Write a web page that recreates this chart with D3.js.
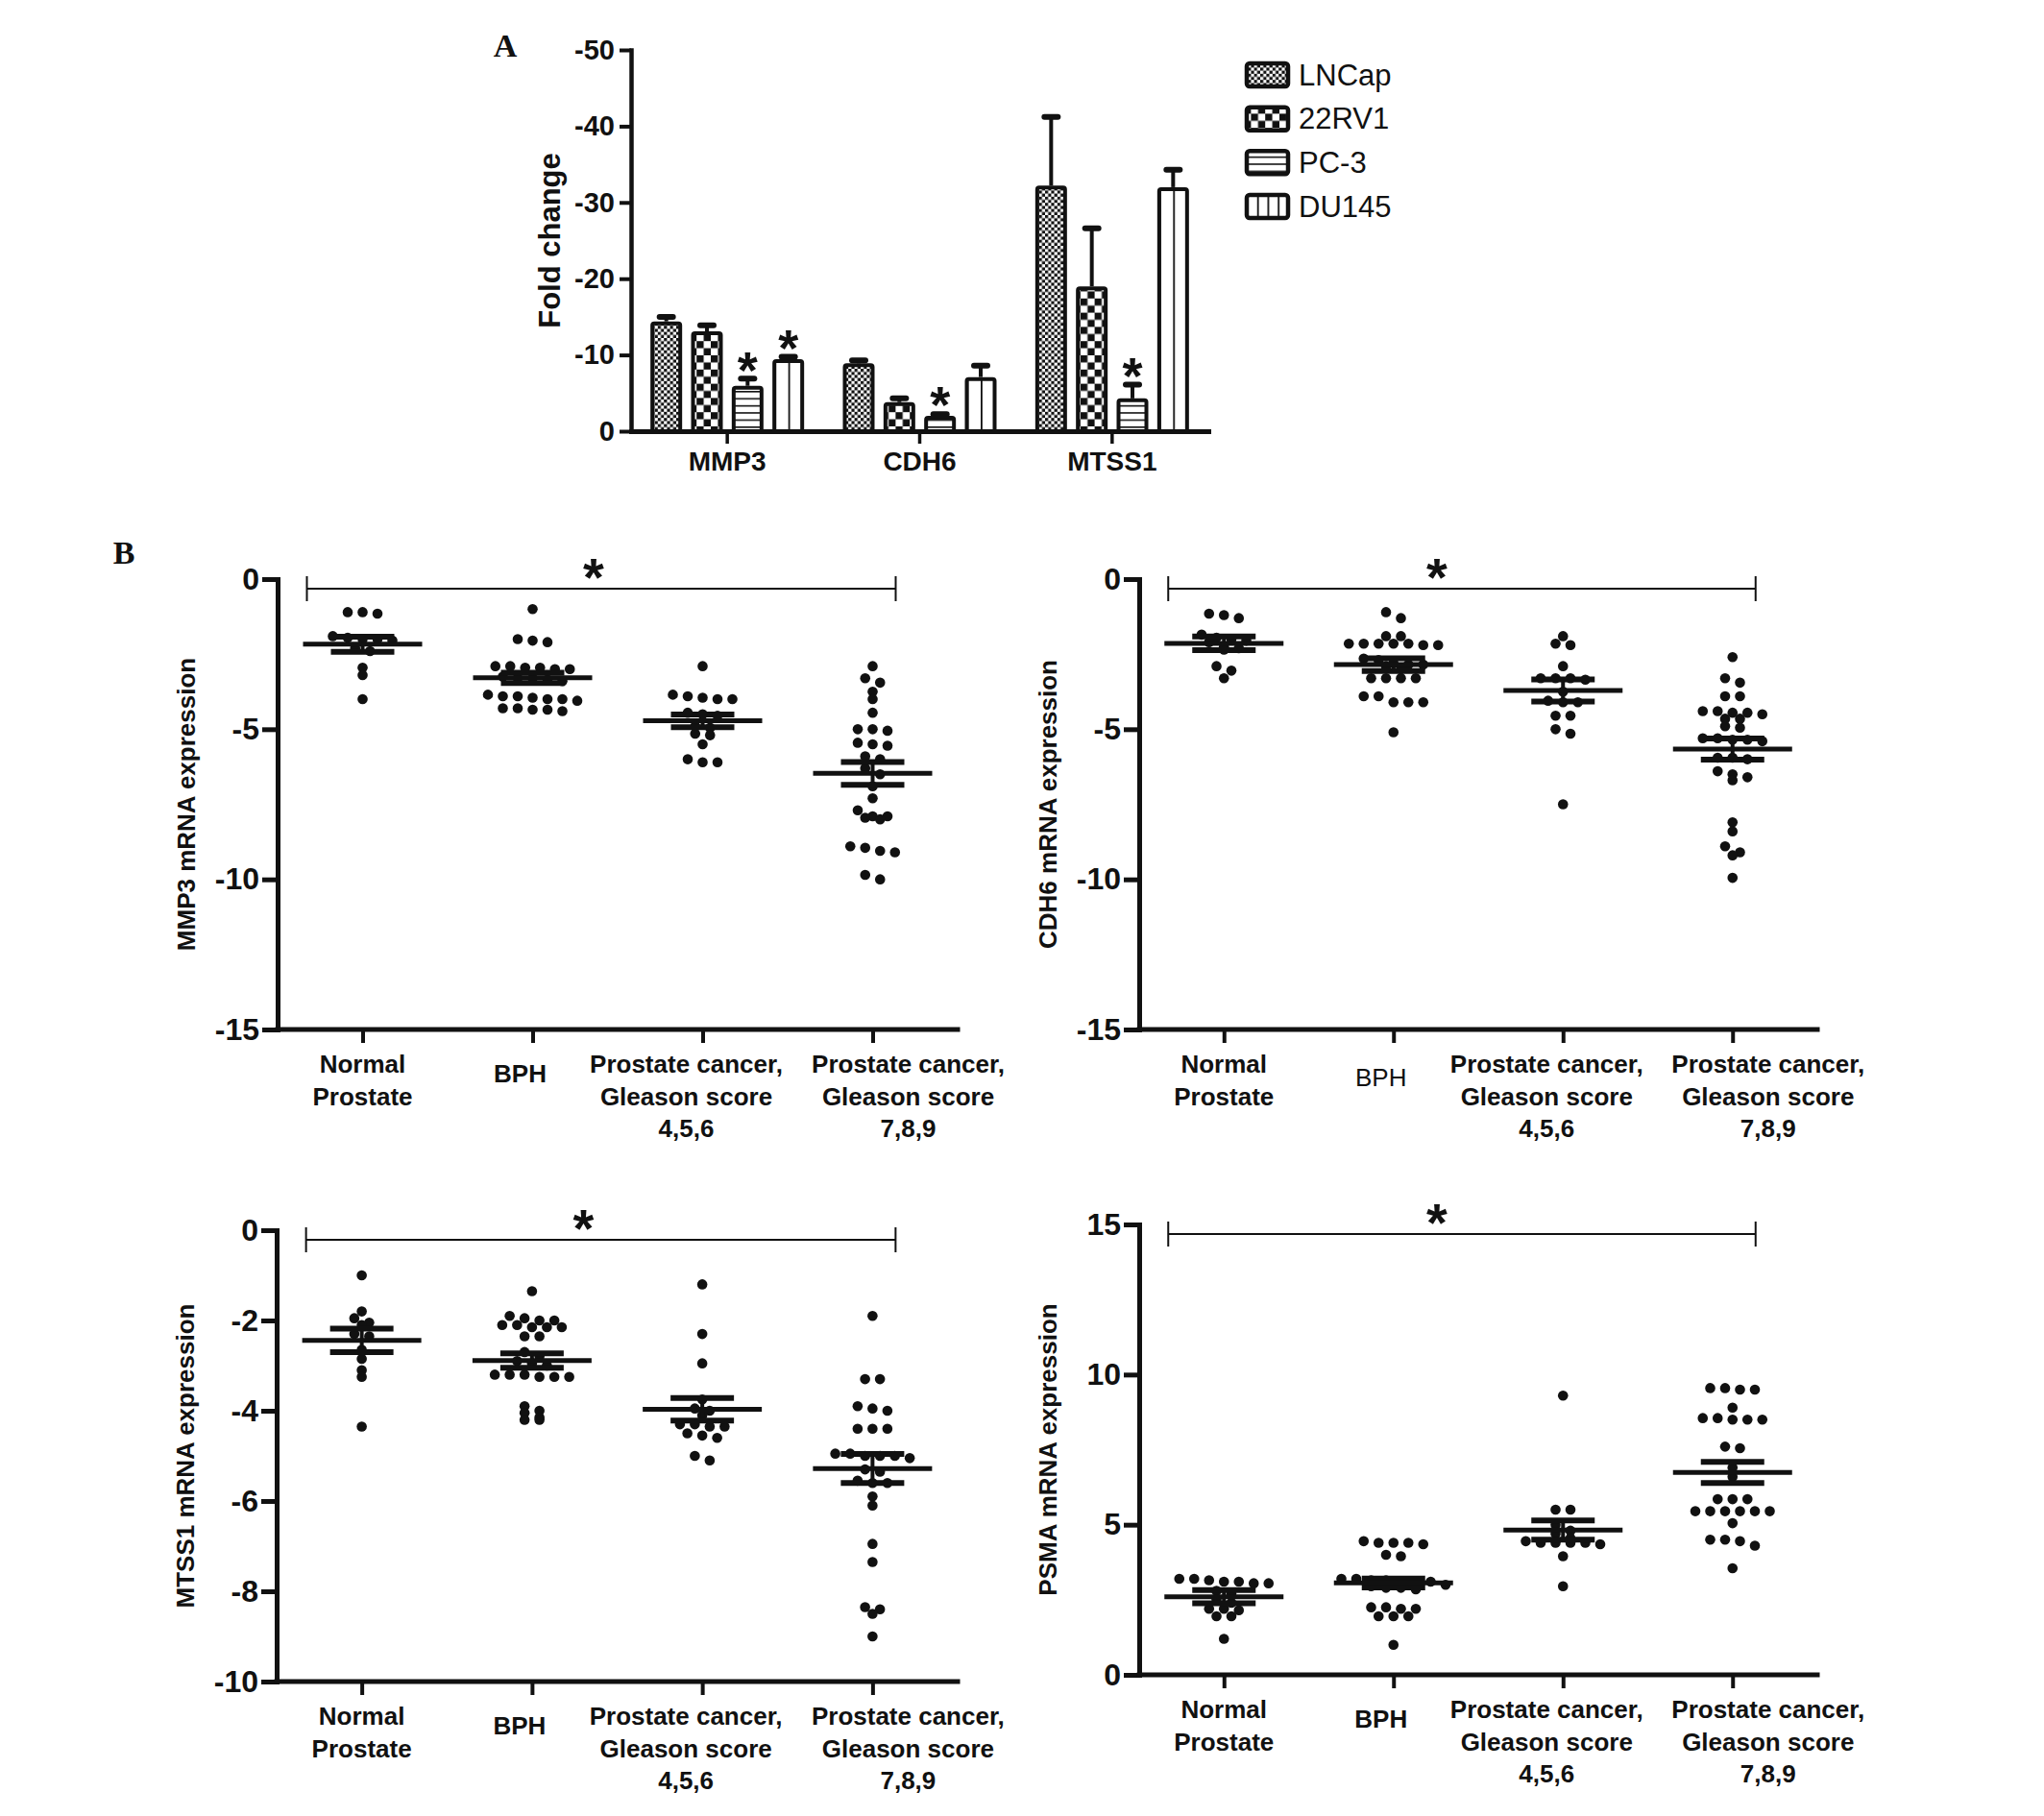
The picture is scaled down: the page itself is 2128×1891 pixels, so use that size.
<!DOCTYPE html>
<html><head><meta charset="utf-8">
<script src="https://cdn.jsdelivr.net/npm/d3@7"></script>
<style>body{margin:0;background:#fff} svg{display:block}</style>
</head><body>
<svg id="chart" width="2128" height="1891"></svg>
<script>
// ================= DATA =================
// Panel A: fold change (cell lines)
const genes = ["MMP3", "CDH6", "MTSS1"];
const cellLines = ["LNCap", "22RV1", "PC-3", "DU145"];
const foldLNCap = [-14.4, -8.9, -32.2];
const fold22RV1 = [-13.1, -3.8, -19.0];
const foldPC3   = [-5.95, -2.0, -4.3];
const foldDU145 = [-9.45, -7.1, -32.0];
const errLNCap = [0.6, 0.4, 9.0];
const err22RV1 = [0.8, 0.5, 7.6];
const errPC3   = [0.95, 0.25, 1.8];
const errDU145 = [0.3, 1.5, 2.3];
const sigLNCap = [false, false, false];
const sig22RV1 = [false, false, false];
const sigPC3   = [true, true, true];
const sigDU145 = [true, false, false];
const foldTicks = [0, -10, -20, -30, -40, -50];

// Panel B: tissue groups
const tissueGroups = ["Normal Prostate", "BPH", "Prostate cancer, Gleason score 4,5,6", "Prostate cancer, Gleason score 7,8,9"];
const tissueLabelLines = [["Normal", "Prostate"], ["BPH"], ["Prostate cancer,", "Gleason score", "4,5,6"], ["Prostate cancer,", "Gleason score", "7,8,9"]];

const mmp3Normal = [-1.1, -1.15, -1.1, -1.9, -1.95, -2.0, -2.0, -2.05, -2.3, -2.4, -2.95, -3.2, -4.0];
const mmp3BPH = [-1.0, -2.0, -2.05, -2.1, -2.9, -2.9, -2.95, -2.95, -3.0, -3.0, -3.25, -3.3, -3.3, -3.35, -3.4, -3.85, -3.9, -3.9, -3.95, -4.0, -4.0, -4.05, -4.3, -4.3, -4.35, -4.35, -4.4];
const mmp3PC456 = [-2.9, -3.85, -3.9, -3.95, -4.0, -4.0, -4.45, -4.5, -4.55, -4.9, -4.95, -5.15, -5.2, -5.5, -6.0, -6.1, -6.1];
const mmp3PC789 = [-2.9, -3.3, -3.45, -3.75, -4.0, -4.45, -5.0, -5.0, -5.05, -5.45, -5.5, -5.55, -5.9, -6.0, -6.3, -6.5, -6.9, -7.3, -7.7, -7.9, -7.9, -7.95, -8.0, -8.9, -8.95, -9.05, -9.1, -9.85, -10.0];
const mmp3Mean = [-2.17, -3.29, -4.72, -6.47];
const mmp3Sem = [0.25, 0.17, 0.21, 0.38];
const mmp3Ticks = [0, -5, -10, -15];

const cdh6Normal = [-1.15, -1.3, -1.2, -1.85, -1.95, -2.0, -2.05, -2.1, -2.25, -2.3, -2.35, -2.9, -3.05, -3.3];
const cdh6BPH = [-1.1, -1.3, -1.9, -1.9, -2.15, -2.15, -2.15, -2.15, -2.15, -2.2, -2.2, -2.65, -2.7, -2.8, -2.85, -2.85, -2.9, -3.0, -3.3, -3.3, -3.3, -3.3, -3.9, -3.9, -4.1, -4.1, -4.1, -5.1];
const cdh6PC456 = [-1.9, -2.15, -2.2, -2.9, -3.3, -3.3, -3.3, -3.35, -3.75, -4.05, -4.1, -4.1, -4.55, -4.55, -5.0, -5.15, -7.5];
const cdh6PC789 = [-2.6, -3.3, -3.45, -3.9, -3.9, -4.4, -4.4, -4.45, -4.45, -4.5, -4.65, -4.65, -4.9, -4.95, -5.3, -5.3, -5.35, -5.35, -5.4, -5.95, -5.95, -6.0, -6.4, -6.5, -6.6, -6.7, -8.1, -8.4, -8.9, -9.1, -9.2, -9.95];
const cdh6Mean = [-2.14, -2.85, -3.71, -5.66];
const cdh6Sem = [0.23, 0.21, 0.37, 0.35];
const cdh6Ticks = [0, -5, -10, -15];

const mtss1Normal = [-1.0, -1.8, -1.95, -2.05, -2.1, -2.3, -2.35, -2.65, -2.85, -3.1, -3.25, -4.35];
const mtss1BPH = [-1.35, -1.9, -1.95, -2.0, -2.0, -2.1, -2.1, -2.15, -2.15, -2.15, -2.35, -2.35, -2.7, -2.8, -2.9, -2.95, -3.0, -3.2, -3.2, -3.2, -3.25, -3.25, -3.25, -3.9, -4.0, -4.05, -4.15, -4.2, -4.2];
const mtss1PC456 = [-1.2, -2.3, -2.95, -3.75, -3.95, -4.0, -4.1, -4.3, -4.3, -4.35, -4.35, -4.5, -4.55, -4.6, -5.0, -5.1];
const mtss1PC789 = [-1.9, -3.3, -3.3, -3.9, -3.95, -4.0, -4.4, -4.4, -4.4, -4.95, -4.95, -5.0, -5.0, -5.0, -5.05, -5.3, -5.35, -5.55, -5.6, -5.6, -5.9, -6.1, -6.95, -7.35, -8.35, -8.4, -8.5, -9.0];
const mtss1Mean = [-2.44, -2.89, -3.97, -5.28];
const mtss1Sem = [0.26, 0.16, 0.25, 0.32];
const mtss1Ticks = [0, -2, -4, -6, -8, -10];

const psmaNormal = [3.2, 3.2, 3.15, 3.1, 3.1, 3.05, 3.05, 2.8, 2.7, 2.5, 2.4, 2.2, 2.2, 2.15, 1.95, 1.95, 1.2];
const psmaBPH = [4.45, 4.4, 4.4, 4.4, 4.35, 4.0, 3.95, 3.2, 3.2, 3.15, 3.15, 3.1, 3.1, 3.1, 3.0, 2.95, 2.9, 2.9, 2.85, 2.25, 2.25, 2.2, 2.2, 1.95, 1.95, 1.95, 1.0];
const psmaPC456 = [9.3, 5.5, 5.5, 5.0, 4.8, 4.7, 4.55, 4.45, 4.4, 4.4, 4.4, 4.4, 4.35, 3.95, 2.95];
const psmaPC789 = [9.55, 9.55, 9.5, 9.5, 8.9, 8.55, 8.55, 8.5, 8.5, 8.5, 7.6, 7.55, 6.9, 6.6, 5.85, 5.85, 5.85, 5.45, 5.45, 5.45, 5.45, 5.45, 5.45, 5.05, 4.5, 4.5, 4.45, 4.3, 3.55];
const psmaMean = [2.6, 3.06, 4.82, 6.74];
const psmaSem = [0.22, 0.15, 0.32, 0.35];
const psmaTicks = [0, 5, 10, 15];

// ================= LAYOUT / STYLE =================
const FONT = "'Liberation Sans', Arial, Helvetica, sans-serif";
const SERIF = "'Liberation Serif', 'Times New Roman', serif";
const INK = "#111";
const svg = d3.select("#chart");
svg.append("rect").attr("width", 2128).attr("height", 1891).attr("fill", "#fff");

// ---------- patterns ----------
const defs = svg.append("defs");
function checker(id, c) {
  const p = defs.append("pattern").attr("id", id).attr("patternUnits", "userSpaceOnUse")
    .attr("width", 2 * c).attr("height", 2 * c);
  p.append("rect").attr("width", 2 * c).attr("height", 2 * c).attr("fill", "#fff");
  p.append("rect").attr("width", c).attr("height", c).attr("fill", INK);
  p.append("rect").attr("x", c).attr("y", c).attr("width", c).attr("height", c).attr("fill", INK);
}
checker("pLN", 3.2);
checker("p22", 7.4);
(function () {
  const p = defs.append("pattern").attr("id", "pPC").attr("patternUnits", "userSpaceOnUse")
    .attr("width", 10).attr("height", 7.4);
  p.append("rect").attr("width", 10).attr("height", 7.4).attr("fill", "#fff");
  p.append("rect").attr("y", 0).attr("width", 10).attr("height", 1.6).attr("fill", INK);
})();
function vstripes(id, frac) {
  const p = defs.append("pattern").attr("id", id).attr("patternUnits", "objectBoundingBox")
    .attr("width", frac).attr("height", 1);
  p.append("rect").attr("width", 2000).attr("height", 2000).attr("fill", "#fff");
  p.append("rect").attr("x", 0).attr("width", 1.8).attr("height", 2000).attr("fill", INK);
}
vstripes("pDUbar", 0.5);
vstripes("pDUleg", 0.25);

function styleAxis(g, domainW, tickW, fs, weight) {
  g.select(".domain").attr("stroke", INK).attr("stroke-width", domainW).attr("stroke-linecap", "square");
  g.selectAll(".tick line").attr("stroke", INK).attr("stroke-width", tickW);
  g.selectAll(".tick text").attr("fill", INK).style("font-family", FONT)
    .style("font-size", fs + "px").style("font-weight", weight);
}

// ================= PANEL A =================
const A = { left: 657, right: 1258, top: 52, bottom: 449 };
const xA = d3.scaleBand().domain(genes).range([A.left, A.right]);
const yA = d3.scaleLinear().domain([0, -50]).range([A.bottom, A.top]);
const xSub = d3.scalePoint().domain(cellLines).range([-63.5, 63.5]);
const gA = svg.append("g");

const seriesA = [
  { name: "LNCap", vals: foldLNCap, err: errLNCap, sig: sigLNCap, bar: "url(#pLN)", leg: "url(#pLN)" },
  { name: "22RV1", vals: fold22RV1, err: err22RV1, sig: sig22RV1, bar: "url(#p22)", leg: "url(#p22)" },
  { name: "PC-3", vals: foldPC3, err: errPC3, sig: sigPC3, bar: "url(#pPC)", leg: "url(#pPC)" },
  { name: "DU145", vals: foldDU145, err: errDU145, sig: sigDU145, bar: "url(#pDUbar)", leg: "url(#pDUleg)" }
];
const barW = 29;
seriesA.forEach(s => {
  genes.forEach((g, i) => {
    const cx = xA(g) + xA.bandwidth() / 2 + xSub(s.name);
    const v = s.vals[i], e = s.err[i];
    const yTop = yA(v), yErr = yA(v - e);
    gA.append("line").attr("x1", cx).attr("x2", cx).attr("y1", yTop).attr("y2", yErr)
      .attr("stroke", INK).attr("stroke-width", 4);
    gA.append("rect").attr("x", cx - 10).attr("y", yErr - 3).attr("width", 20).attr("height", 6)
      .attr("rx", 3).attr("fill", INK);
    gA.append("rect").attr("x", cx - barW / 2).attr("y", yTop + 2).attr("width", barW)
      .attr("height", Math.max(0, yA(0) - yTop - 2)).attr("rx", 2)
      .attr("fill", s.bar).attr("stroke", INK).attr("stroke-width", 4);
    if (s.sig[i]) {
      const fs = 54;
      gA.append("text").attr("x", cx).attr("y", yErr - 22 + 0.58 * fs).attr("text-anchor", "middle")
        .style("font-family", FONT).style("font-size", fs + "px").style("font-weight", "bold")
        .attr("fill", INK).text("*");
    }
  });
});
const gAy = gA.append("g").attr("transform", `translate(${A.left},0)`)
  .call(d3.axisLeft(yA).tickValues(foldTicks).tickSize(12).tickSizeOuter(0).tickPadding(5).tickFormat(d => String(d)));
styleAxis(gAy, 4.5, 4, 29, "bold");
const gAx = gA.append("g").attr("transform", `translate(0,${A.bottom})`)
  .call(d3.axisBottom(xA).tickSize(13).tickSizeOuter(0).tickPadding(8));
styleAxis(gAx, 5, 3.5, 28, "bold");
gA.append("text").attr("transform", `translate(${A.left - 85},${(A.top + A.bottom) / 2}) rotate(-90)`)
  .attr("text-anchor", "middle").attr("dominant-baseline", "central")
  .style("font-family", FONT).style("font-size", "31px").style("font-weight", "bold").attr("fill", INK)
  .text("Fold change");
// legend
const legY = d3.scalePoint().domain(cellLines).range([78, 215]);
seriesA.forEach(s => {
  const y = legY(s.name);
  gA.append("rect").attr("x", 1298).attr("y", y - 12).attr("width", 43).attr("height", 24).attr("rx", 3)
    .attr("fill", s.leg).attr("stroke", INK).attr("stroke-width", 4.5);
  gA.append("text").attr("x", 1352).attr("y", y).attr("dominant-baseline", "central")
    .style("font-family", FONT).style("font-size", "31px").attr("fill", INK).text(s.name);
});
svg.append("text").attr("x", 526).attr("y", 47).attr("text-anchor", "middle").attr("dominant-baseline", "central")
  .style("font-family", SERIF).style("font-size", "34px").style("font-weight", "bold").attr("fill", INK).text("A");
svg.append("text").attr("x", 129).attr("y", 575).attr("text-anchor", "middle").attr("dominant-baseline", "central")
  .style("font-family", SERIF).style("font-size", "34px").style("font-weight", "bold").attr("fill", INK).text("B");

// ================= PANEL B =================
const labelDx = [0, -13, -17, 37];
const panels = [
  { left: 289, right: 997, top: 603, bottom: 1072, domain: [0, -15], ticks: mmp3Ticks, title: "MMP3 mRNA expression",
    groups: [mmp3Normal, mmp3BPH, mmp3PC456, mmp3PC789], mean: mmp3Mean, sem: mmp3Sem, lightBPH: false, starDx: -8 },
  { left: 1186, right: 1892, top: 603, bottom: 1072, domain: [0, -15], ticks: cdh6Ticks, title: "CDH6 mRNA expression",
    groups: [cdh6Normal, cdh6BPH, cdh6PC456, cdh6PC789], mean: cdh6Mean, sem: cdh6Sem, lightBPH: true, starDx: -26 },
  { left: 288, right: 997, top: 1281, bottom: 1751, domain: [0, -10], ticks: mtss1Ticks, title: "MTSS1 mRNA expression",
    groups: [mtss1Normal, mtss1BPH, mtss1PC456, mtss1PC789], mean: mtss1Mean, sem: mtss1Sem, lightBPH: false, starDx: -18 },
  { left: 1186, right: 1892, top: 1275, bottom: 1744, domain: [0, 15], ticks: psmaTicks, title: "PSMA mRNA expression",
    groups: [psmaNormal, psmaBPH, psmaPC456, psmaPC789], mean: psmaMean, sem: psmaSem, lightBPH: false, starDx: -26 }
];

function layoutDots(vals, y, cx, spacing, thresh) {
  const sorted = vals.slice().sort((a, b) => y(a) - y(b));
  const rows = []; let cur = null;
  sorted.forEach(v => {
    const py = y(v);
    if (!cur || py - cur.y0 > thresh) { cur = { y0: py, items: [] }; rows.push(cur); }
    cur.items.push(v);
  });
  const pts = [];
  rows.forEach(r => {
    const n = r.items.length;
    r.items.forEach((v, i) => pts.push({ x: cx + (i - (n - 1) / 2) * spacing, y: y(v) }));
  });
  return pts;
}

panels.forEach(P => {
  const g = svg.append("g");
  const x = d3.scalePoint().domain(tissueGroups).range([P.left, P.right]).padding(0.5);
  const y = d3.scaleLinear().domain(P.domain).range(P.domain[1] > P.domain[0] ? [P.bottom, P.top] : [P.top, P.bottom]);
  const yTopVal = P.domain[1] > P.domain[0] ? P.domain[1] : P.domain[0];

  tissueGroups.forEach((grp, gi) => {
    const pts = layoutDots(P.groups[gi], y, x(grp), 15.5, 7);
    g.selectAll(null).data(pts).enter().append("circle")
      .attr("cx", d => d.x).attr("cy", d => d.y).attr("r", 5.3).attr("fill", INK);
  });
  tissueGroups.forEach((grp, gi) => {
    const cx = x(grp), m = P.mean[gi], s = P.sem[gi];
    g.append("line").attr("x1", cx).attr("x2", cx).attr("y1", y(m + s)).attr("y2", y(m - s))
      .attr("stroke", INK).attr("stroke-width", 4);
    [m + s, m - s].forEach(v => g.append("line").attr("x1", cx - 33).attr("x2", cx + 33)
      .attr("y1", y(v)).attr("y2", y(v)).attr("stroke", INK).attr("stroke-width", 6));
    g.append("line").attr("x1", cx - 62).attr("x2", cx + 62).attr("y1", y(m)).attr("y2", y(m))
      .attr("stroke", INK).attr("stroke-width", 5);
  });
  const gy = g.append("g").attr("transform", `translate(${P.left},0)`)
    .call(d3.axisLeft(y).tickValues(P.ticks).tickSize(16).tickSizeOuter(0).tickPadding(3).tickFormat(d => String(d)));
  styleAxis(gy, 5, 5, 32, "bold");
  const gx = g.append("g").attr("transform", `translate(0,${P.bottom})`)
    .call(d3.axisBottom(x).tickSize(14).tickSizeOuter(0).tickFormat(""));
  styleAxis(gx, 5, 4, 26, "bold");
  gx.select(".domain").attr("d", `M${P.left},0H${P.right}`);
  tissueGroups.forEach((grp, gi) => {
    const lines = tissueLabelLines[gi];
    const light = P.lightBPH && gi === 1;
    const t = g.append("text").attr("text-anchor", "middle")
      .style("font-family", FONT).style("font-size", "26px").style("font-weight", light ? "normal" : "bold")
      .attr("fill", INK);
    lines.forEach((ln, li) => {
      t.append("tspan").attr("x", x(grp) + labelDx[gi])
        .attr("y", P.bottom + 45 + li * 33.5 + (lines.length === 1 ? (light ? 14 : 10) : 0)).text(ln);
    });
  });
  g.append("text").attr("transform", `translate(${P.left - 95},${(P.top + P.bottom) / 2}) rotate(-90)`)
    .attr("text-anchor", "middle").attr("dominant-baseline", "central")
    .style("font-family", FONT).style("font-size", "26px").style("font-weight", "bold").attr("fill", INK)
    .text(P.title);
  const bx1 = x(tissueGroups[0]) - 58, bx2 = x(tissueGroups[3]) + 24, by = y(yTopVal) + 10;
  g.append("path").attr("d", `M${bx1},${by - 13}V${by + 13}M${bx1},${by}H${bx2}M${bx2},${by - 13}V${by + 13}`)
    .attr("fill", "none").attr("stroke", INK).attr("stroke-width", 2);
  const fs = 56;
  g.append("text").attr("x", (bx1 + bx2) / 2 + P.starDx).attr("y", by - 25 + 0.58 * fs).attr("text-anchor", "middle")
    .style("font-family", FONT).style("font-size", fs + "px").style("font-weight", "bold").attr("fill", INK).text("*");
});
</script>
</body></html>
